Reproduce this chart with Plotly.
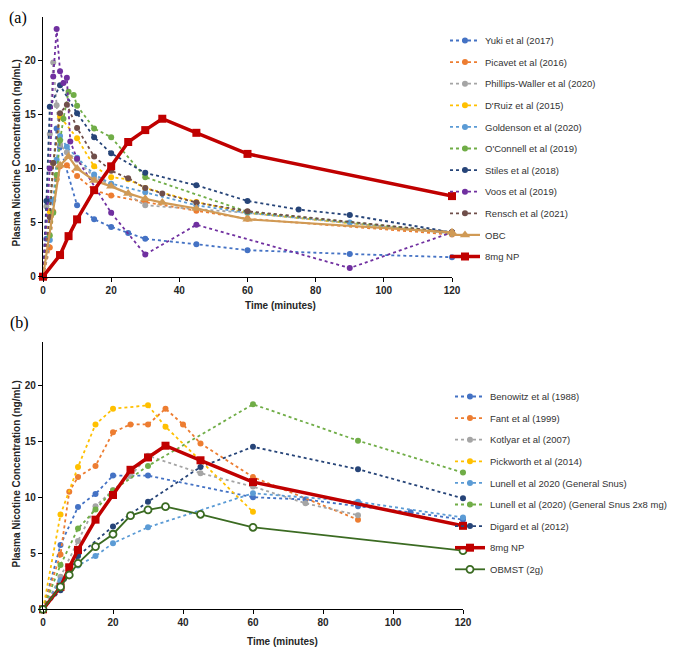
import plotly.graph_objects as go

# The page puts the plot 8px in from the top-left corner, so the figure is
# sized to the remaining window and reference pixel positions are shifted.
OFF = 8
FW, FH = 676 - OFF, 648 - OFF


def fx(px):
    return (px - OFF) / FW


def fy(py):
    return 1 - (py - OFF) / FH


# ---------------- Panel (a) data ----------------
yuki_t = [0, 1, 2, 3, 4, 5, 10, 15, 20, 25, 30, 45, 60, 90, 120]
yuki_v = [0, 3.5, 7.0, 10.5, 13.7, 12.0, 6.6, 5.3, 4.6, 4.05, 3.5, 3.0, 2.45, 2.1, 1.8]

picavet_t = [0, 2, 3, 4, 5, 7, 10, 15, 20, 30, 45, 60, 120]
picavet_v = [0, 2.7, 6.0, 9.0, 10.2, 10.3, 9.3, 8.0, 7.5, 6.9, 6.1, 5.35, 3.9]

phillips_t = [0, 1, 2, 3, 4, 5, 7, 10, 15, 20, 30, 60, 120]
phillips_v = [0, 6.5, 13.2, 19.8, 15.85, 12.2, 11.5, 10.8, 9.2, 8.5, 6.6, 5.9, 4.0]

druiz_t = [0, 2, 3, 5, 10, 15, 20, 25, 30, 45, 60, 120]
druiz_v = [0, 6.0, 10.5, 14.8, 12.8, 10.2, 9.2, 9.0, 8.2, 6.9, 5.9, 4.0]

goldenson_t = [0, 2, 3, 4, 5, 7, 10, 15, 20, 30, 45, 60, 90, 120]
goldenson_v = [0, 3.4, 7.1, 10.8, 13.0, 12.0, 11.0, 9.45, 8.6, 7.8, 6.6, 5.9, 5.0, 4.0]

oconnell_t = [0, 2, 3, 4, 5, 6, 7.5, 9, 10, 15, 20, 30, 60, 120]
oconnell_v = [0, 3.8, 5.9, 9.4, 12.6, 14.6, 17.1, 16.8, 15.8, 13.7, 12.9, 9.2, 6.0, 4.1]

stiles_t = [0, 1, 2, 5, 10, 15, 20, 30, 45, 60, 75, 90, 120]
stiles_v = [0, 7.0, 15.7, 17.7, 15.1, 12.9, 11.4, 9.6, 8.45, 7.0, 6.2, 5.7, 4.1]

voos_t = [0, 2, 3, 4, 5, 6, 7, 8, 10, 20, 30, 45, 90, 120]
voos_v = [0, 10.0, 18.5, 22.9, 19.0, 17.9, 18.4, 12.5, 10.9, 5.9, 2.05, 4.8, 0.8, 4.1]

rensch_t = [0, 2, 3, 5, 7, 10, 15, 20, 25, 30, 35, 45, 60, 120]
rensch_v = [0, 5.5, 10.5, 15.1, 15.9, 13.75, 11.1, 9.8, 9.1, 8.2, 7.7, 6.85, 6.05, 4.1]

obc_t = [0, 5, 7.5, 10, 15, 20, 25, 30, 35, 45, 60, 120]
obc_v = [0, 10.3, 11.1, 10.0, 8.9, 8.35, 7.7, 7.2, 6.85, 6.3, 5.3, 4.1]

np_t = [0, 5, 7.5, 10, 15, 20, 25, 30, 35, 45, 60, 120]
np_v = [0, 2.0, 3.75, 5.3, 8.0, 10.2, 12.45, 13.55, 14.6, 13.3, 11.35, 7.45]

# ---------------- Panel (b) data ----------------
benowitz_t = [0, 5, 10, 15, 20, 30, 60, 75, 90, 105, 120]
benowitz_v = [0, 5.74, 9.13, 10.3, 11.93, 11.93, 10.0, 9.8, 9.2, 8.66, 8.0]

fant_t = [0, 5, 7.5, 10, 15, 20, 25, 30, 35, 40, 45, 60, 90]
fant_v = [0, 4.9, 10.5, 11.8, 12.8, 15.8, 16.5, 16.5, 17.9, 16.5, 14.8, 11.8, 8.0]

kotlyar_t = [0, 5, 10, 15, 20, 25, 30, 45, 60, 75, 90]
kotlyar_v = [0, 2.9, 6.1, 9.2, 10.65, 11.9, 13.7, 12.15, 10.95, 9.46, 8.4]

pickworth_t = [0, 5, 10, 15, 20, 30, 35, 60]
pickworth_v = [0, 8.45, 12.7, 16.5, 17.9, 18.2, 16.3, 8.7]

lunell_gs_t = [0, 5, 10, 15, 20, 30, 60, 90, 120]
lunell_gs_v = [0, 2.6, 3.9, 4.76, 5.9, 7.32, 10.36, 9.6, 8.2]

lunell_2x8_t = [0, 5, 10, 15, 20, 30, 60, 90, 120]
lunell_2x8_v = [0, 3.95, 7.2, 8.9, 10.6, 12.8, 18.3, 15.05, 12.2]

digard_t = [0, 5, 10, 20, 30, 45, 60, 90, 120]
digard_v = [0, 1.7, 4.76, 7.4, 9.6, 12.7, 14.5, 12.5, 9.9]

obmst_t = [0, 5, 7.5, 10, 15, 20, 25, 30, 35, 45, 60, 120]
obmst_v = [0, 2.0, 3.06, 4.1, 5.6, 6.7, 8.36, 8.87, 9.16, 8.48, 7.32, 5.23]

x_ticks = [0, 20, 40, 60, 80, 100, 120]
y_ticks = [0, 5, 10, 15, 20]

FONT = "Liberation Sans"

fig = go.Figure()


def study(t, v, name, color, panel):
    fig.add_trace(go.Scatter(
        x=t, y=v, name=name, mode="lines+markers", cliponaxis=False,
        line=dict(color=color, width=1.8, dash="dot"),
        marker=dict(symbol="circle", size=6, color=color),
        xaxis="x" if panel == "a" else "x2",
        yaxis="y" if panel == "a" else "y2",
        legend="legend" if panel == "a" else "legend2",
        legendgroup=panel + name,
    ))


def np_trace(panel):
    fig.add_trace(go.Scatter(
        x=np_t, y=np_v, name="8mg NP", mode="lines+markers", cliponaxis=False,
        line=dict(color="#C00000", width=3.5),
        marker=dict(symbol="square", size=8, color="#C00000"),
        xaxis="x" if panel == "a" else "x2",
        yaxis="y" if panel == "a" else "y2",
        legend="legend" if panel == "a" else "legend2",
        legendgroup=panel + "np",
    ))


# Panel (a)
study(yuki_t, yuki_v, "Yuki et al (2017)", "#4472C4", "a")
study(picavet_t, picavet_v, "Picavet et al (2016)", "#ED7D31", "a")
study(phillips_t, phillips_v, "Phillips-Waller et al (2020)", "#A5A5A5", "a")
study(druiz_t, druiz_v, "D'Ruiz et al (2015)", "#FFC000", "a")
study(goldenson_t, goldenson_v, "Goldenson et al (2020)", "#5B9BD5", "a")
study(oconnell_t, oconnell_v, "O'Connell et al (2019)", "#70AD47", "a")
study(stiles_t, stiles_v, "Stiles et al (2018)", "#264478", "a")
study(voos_t, voos_v, "Voos et al (2019)", "#7030A0", "a")
study(rensch_t, rensch_v, "Rensch et al (2021)", "#6F4E4A", "a")
fig.add_trace(go.Scatter(
    x=obc_t, y=obc_v, name="OBC", mode="lines+markers", cliponaxis=False,
    line=dict(color="#D09A55", width=2.2),
    marker=dict(symbol="triangle-up", size=9, color="#D09A55"),
    xaxis="x", yaxis="y", legend="legend", legendgroup="aobc",
))
np_trace("a")

# Panel (b)
study(benowitz_t, benowitz_v, "Benowitz et al (1988)", "#4472C4", "b")
study(fant_t, fant_v, "Fant et al (1999)", "#ED7D31", "b")
study(kotlyar_t, kotlyar_v, "Kotlyar et al (2007)", "#A5A5A5", "b")
study(pickworth_t, pickworth_v, "Pickworth et al (2014)", "#FFC000", "b")
study(lunell_gs_t, lunell_gs_v, "Lunell et al 2020 (General Snus)", "#5B9BD5", "b")
study(lunell_2x8_t, lunell_2x8_v, "Lunell et al (2020) (General Snus 2x8 mg)", "#70AD47", "b")
study(digard_t, digard_v, "Digard et al (2012)", "#264478", "b")
np_trace("b")
fig.add_trace(go.Scatter(
    x=obmst_t, y=obmst_v, name="OBMST (2g)", mode="lines+markers", cliponaxis=False,
    line=dict(color="#3B6B22", width=1.8),
    marker=dict(symbol="circle", size=7, color="white",
                line=dict(color="#3B6B22", width=1.8)),
    xaxis="x2", yaxis="y2", legend="legend2", legendgroup="bobmst",
))

axis_common = dict(
    showline=True, linecolor="#000000", linewidth=1.3,
    ticks="outside", ticklen=4, tickwidth=1.3, tickcolor="#000000",
    showgrid=False, zeroline=False,
    tickfont=dict(family=FONT, size=10, color="#262626", weight="bold"),
)

legend_common = dict(
    font=dict(family=FONT, size=9.5, color="#333333"),
    bgcolor="rgba(0,0,0,0)", borderwidth=0,
    tracegroupgap=2.6, traceorder="grouped",
    xanchor="left", yanchor="top", itemwidth=30,
)

fig.update_layout(
    width=FW, height=FH,
    paper_bgcolor="white", plot_bgcolor="white",
    margin=dict(l=0, r=0, t=0, b=0, autoexpand=False),
    showlegend=True,
    xaxis=dict(domain=[fx(43), fx(452)], range=[0, 120], tickvals=x_ticks,
               anchor="y", **axis_common),
    yaxis=dict(domain=[fy(276.7), fy(16.5)], range=[0, 24.05],
               tickvals=y_ticks, anchor="x", **axis_common),
    xaxis2=dict(domain=[fx(43), fx(463)], range=[0, 120], tickvals=x_ticks,
                anchor="y2", **axis_common),
    yaxis2=dict(domain=[fy(609.3), fy(341.5)], range=[0, 23.9],
                tickvals=y_ticks, anchor="x2", **axis_common),
    legend=dict(x=fx(445), y=fy(26), **legend_common),
    legend2=dict(x=fx(450), y=fy(382), **legend_common),
)

title_font = dict(family=FONT, size=10, color="#262626", weight="bold")
ann = [
    dict(text="Time (minutes)", x=fx(280), y=fy(305), xanchor="center"),
    dict(text="Time (minutes)", x=fx(282), y=fy(641), xanchor="center"),
    dict(text="Plasma Nicotine Concentration (ng/mL)", x=fx(8), y=fy(153),
         textangle=-90, xanchor="left"),
    dict(text="Plasma Nicotine Concentration (ng/mL)", x=fx(8), y=fy(474),
         textangle=-90, xanchor="left"),
]
for a in ann:
    fig.add_annotation(xref="paper", yref="paper", showarrow=False,
                       yanchor="middle", font=title_font, **a)

panel_font = dict(family="Liberation Serif", size=16, color="#000000")
fig.add_annotation(text="(a)", xref="paper", yref="paper", x=fx(8), y=1,
                   xanchor="left", yanchor="top", showarrow=False,
                   borderpad=0, font=panel_font)
fig.add_annotation(text="(b)", xref="paper", yref="paper", x=fx(8), y=fy(323),
                   xanchor="left", yanchor="middle", showarrow=False,
                   font=panel_font)

fig.write_html("out.html")
